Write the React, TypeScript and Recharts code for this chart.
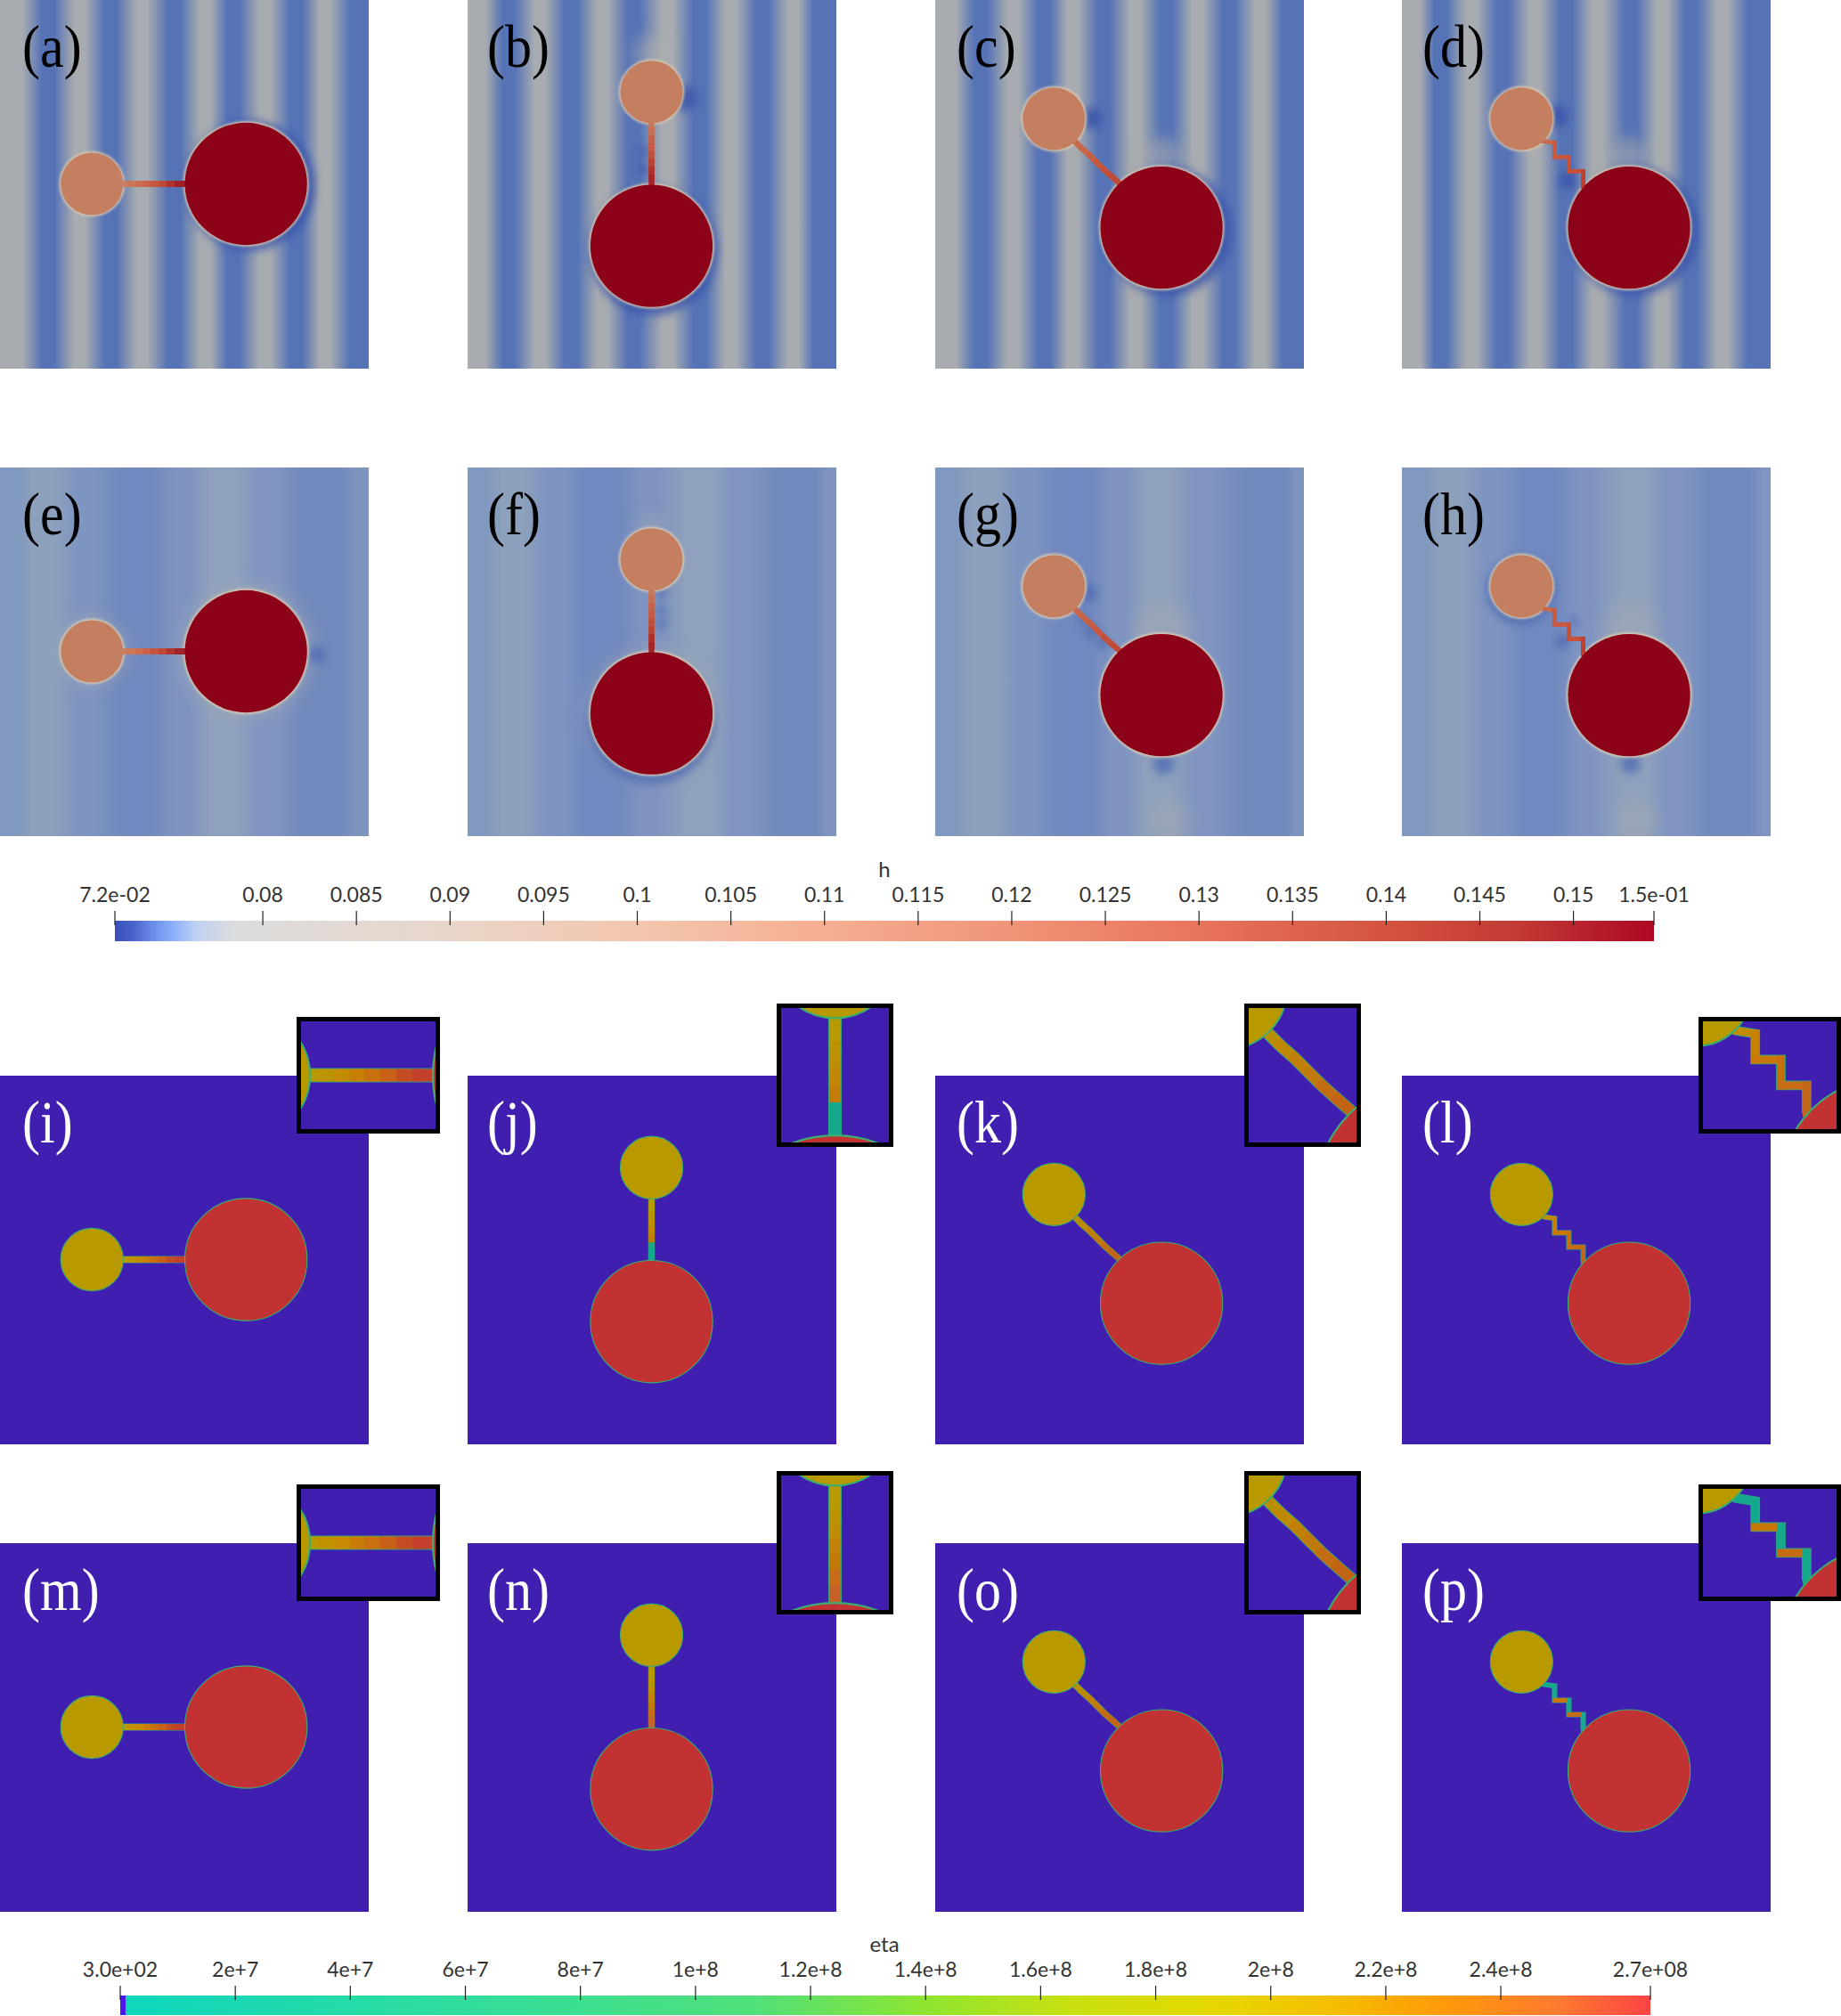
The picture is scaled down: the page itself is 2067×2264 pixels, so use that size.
import { Area, ComposedChart, Line, Scatter, XAxis, YAxis, ZAxis } from 'recharts'

// all field coordinates are in mesh units, one panel is 413 x 413
const MESH = 413
const PANEL_SIZE = 414
const AREA_MAX = 40000

const disc = (x: number, y: number, r: number) => ({ x, y, z: Math.PI * r * r })

const smallCenters = [{ x: 103, y: 206 }, { x: 206, y: 103 }, { x: 133, y: 133 }, { x: 134, y: 133 }]
const bigCenters = [{ x: 275.5, y: 206 }, { x: 206, y: 275.5 }, { x: 253.5, y: 255 }, { x: 254.5, y: 255 }]
const SMALL_R = 35
const BIG_R = 68.5

const rodA = [
  { x: 136, y: 206 }, { x: 146, y: 206 }, { x: 155, y: 206 }, { x: 164, y: 206 }, { x: 172, y: 206 },
  { x: 181, y: 206 }, { x: 190, y: 206 }, { x: 199, y: 206 }, { x: 208, y: 206 }
]
const rodB = [
  { x: 206, y: 136 }, { x: 206, y: 146 }, { x: 206, y: 155 }, { x: 206, y: 164 }, { x: 206, y: 172 },
  { x: 206, y: 181 }, { x: 206, y: 190 }, { x: 206, y: 199 }, { x: 206, y: 208 }
]
const rodC = [
  { x: 156, y: 158 }, { x: 164, y: 166 }, { x: 173, y: 174 }, { x: 181, y: 182 },
  { x: 189, y: 190 }, { x: 198, y: 198 }, { x: 206, y: 205 }
]
const rodD = [
  { x: 158, y: 158 }, { x: 171, y: 160 }, { x: 171, y: 176 }, { x: 187, y: 176 },
  { x: 187, y: 192 }, { x: 203, y: 192 }, { x: 203, y: 209 }
]
const rods = [rodA, rodB, rodC, rodD]
const rodWidths = [7, 6.5, 6.5, 5]

const hRodColors = [
  ['#c87e62', '#ca7858', '#cc6e50', '#ca6248', '#c65640', '#be4836', '#b0342e', '#a02228'],
  ['#c9785a', '#c86e52', '#c6624a', '#c65a42', '#c0503a', '#bc4232', '#b03028', '#a82428'],
  ['#c8684c', '#c8664a', '#c65e44', '#c65840', '#c2503a', '#c04c38'],
  ['#c8684c', '#c85a42', '#c85a42', '#c65038', '#c65038', '#c04030']
]
const etaRodColorsTop = [
  ['#b89a00', '#bc9400', '#c48a00', '#c87e04', '#c8700e', '#c86018', '#c44c24', '#c2402c'],
  ['#b89a00', '#b89a00', '#bc9200', '#c08c04', '#c48404', '#c47c08', '#14a88c', '#14a88c'],
  ['#b88e04', '#bc8806', '#c08008', '#c07a0c', '#c26c14', '#c26414'],
  ['#c08c04', '#c88000', '#c87808', '#c87008', '#c66c14', '#c4661a']
]
const etaRodColorsBottom = [
  ['#b89a00', '#c09200', '#c88a00', '#c87c08', '#c87010', '#c86018', '#c44c24', '#c2402c'],
  ['#b89a00', '#b89a00', '#bc9200', '#c08c04', '#c48008', '#c47808', '#c86c1c', '#c8602a'],
  ['#b88e04', '#bc8806', '#c08008', '#c07a0c', '#c26c14', '#c26414'],
  ['#14a88c', '#14a88c', '#c87808', '#14a88c', '#c86c14', '#14a88c']
]

// stripe centres, alternating grey and blue, per column
const stripeColors = ['#a8acb0', '#5673b6']
const stripePlateaus = [6, 7]
const stripeStops = [
  [19, 54, 89, 124, 159, 195, 230, 261, 297, 332, 364, 399],
  [14, 46, 81, 116, 151, 186, 224, 260, 295, 330, 365, 394],
  [17, 51, 87, 122, 154, 189, 224, 259, 294, 329, 364, 396],
  [15, 43, 78, 113, 149, 184, 219, 257, 291, 324, 359, 394]
]

// the paler second row
const bandColors = ['#8198bf', '#8da0bc', '#7f95c1', '#7289bf', '#7f94c1', '#8fa1bc', '#8095c1', '#7289bd', '#8094c0']
const bandPlateaus = [12, 12, 8, 18, 8, 14, 10, 22, 6]
const bandStops = [
  [10, 48, 95, 150, 205, 250, 300, 360, 405],
  [8, 50, 95, 150, 205, 260, 305, 370, 408],
  [10, 55, 100, 155, 205, 250, 300, 370, 410],
  [15, 55, 100, 155, 205, 260, 305, 368, 410]
]

const topDarkGlows = [
  [disc(280, 208, 73)],
  [disc(243, 110, 14), disc(197, 170, 5), disc(197, 190, 6), disc(208, 281, 72)],
  [disc(175, 133, 12), disc(260, 259, 72)],
  [disc(186, 202, 10), disc(174, 130, 12), disc(260, 259, 72)]
]
const topLightGlows = [
  [],
  [disc(206, 60, 20)],
  [disc(254, 176, 22)],
  [disc(254, 176, 22)]
]
const lowDarkGlows = [
  [disc(355, 210, 10)],
  [disc(217, 140, 6), disc(217, 160, 6), disc(217, 176, 6), disc(206, 284, 71)],
  [disc(170, 140, 11), disc(165, 170, 6), disc(175, 183, 8), disc(187, 197, 7), disc(256, 332, 12)],
  [disc(180, 195, 8), disc(193, 173, 5), disc(133, 137, 39), disc(256, 332, 11)]
]
const lowLightGlows = [
  [disc(276, 206, 76), disc(103, 206, 40)],
  [disc(206, 68, 16), disc(206, 276, 74)],
  [disc(256, 182, 32), disc(262, 395, 24)],
  [disc(256, 182, 32), disc(262, 395, 24)]
]

const columnLefts = [0, 525, 1050, 1574]
const rowTops = [0, 525, 1208, 1733]
const panelLetters = ['a', 'b', 'c', 'd', 'e', 'f', 'g', 'h', 'i', 'j', 'k', 'l', 'm', 'n', 'o', 'p']
const labelOffsets = [25, 22, 24, 23]

const insetBoxes = [
  { left: 333, top: 1142, width: 161, height: 131 },
  { left: 872, top: 1127, width: 131, height: 161 },
  { left: 1397, top: 1127, width: 131, height: 161 },
  { left: 1907, top: 1142, width: 160, height: 131 }
]
const insetViews = [
  { x: [133, 208.5], y: [176, 236] },
  { x: [176, 236], y: [133, 209.5] },
  { x: [145.5, 209.2], y: [144, 223.5] },
  { x: [138.4, 221.7], y: [152.4, 219] }
]
const ROW_GAP = 525

const hTicks = [0.0721, 0.08, 0.085, 0.09, 0.095, 0.1, 0.105, 0.11, 0.115, 0.12, 0.125, 0.13, 0.135, 0.14, 0.145, 0.15, 0.1543]
const hTickLabels = ['7.2e-02', '0.08', '0.085', '0.09', '0.095', '0.1', '0.105', '0.11', '0.115', '0.12', '0.125', '0.13', '0.135', '0.14', '0.145', '0.15', '1.5e-01']
const hStops = [
  [0.0721, '#3a4fb8'], [0.0731, '#4a63cc'], [0.0741, '#6b8ce8'], [0.0752, '#8cb0fa'], [0.0765, '#c0d2f2'], [0.0785, '#dcdcdc'],
  [0.09, '#e9d6ca'], [0.1, '#f3c6ae'], [0.11, '#f6ae92'], [0.12, '#f09478'], [0.13, '#e8745c'], [0.14, '#d4533f'], [0.147, '#c23a35'], [0.1543, '#ad0824']
] as [number, string][]

const etaTicks = [300, 2e7, 4e7, 6e7, 8e7, 1e8, 1.2e8, 1.4e8, 1.6e8, 1.8e8, 2e8, 2.2e8, 2.4e8, 2.66e8]
const etaTickLabels = ['3.0e+02', '2e+7', '4e+7', '6e+7', '8e+7', '1e+8', '1.2e+8', '1.4e+8', '1.6e+8', '1.8e+8', '2e+8', '2.2e+8', '2.4e+8', '2.7e+08']
const etaStops = [
  [300, '#4b18ee'], [9e5, '#4b18ee'], [1.0e6, '#0fd6bd'], [4e7, '#25dba8'], [8e7, '#3ddf90'], [1.1e8, '#50e07a'], [1.4e8, '#8fe530'],
  [1.65e8, '#c8e010'], [1.9e8, '#e5d800'], [2.1e8, '#f4c000'], [2.3e8, '#ff9a08'], [2.5e8, '#ff7a30'], [2.66e8, '#ff4444']
] as [number, string][]

const SERIF = '"Liberation Serif", serif'
const TICK_FONT = 'Lato, sans-serif'

const glowShape = (color: string, blur: number, opacity: number) => (p: any) => (
  <circle cx={p.cx} cy={p.cy} r={p.width / 2} fill={color} fillOpacity={opacity} style={{ filter: `blur(${blur}px)` }} />
)

type FieldProps = {
  id: string
  left: number
  top: number
  width: number
  height: number
  view?: { x: number[]; y: number[] }
  column: number
  stops?: number[]
  stopColors?: string[]
  plateaus?: number[]
  background?: string
  small: string
  big: string
  rim?: string
  ring?: string
  rodEdge?: string
  rodColors: string[]
  darkGlows?: any[]
  lightGlows?: any[]
  darkColor?: string
  lightColor?: string
}

const FieldChart = (f: FieldProps) => {
  const view = f.view ?? { x: [0, MESH], y: [0, MESH] }
  const mag = f.width / (view.x[1] - view.x[0])
  const rod = rods[f.column]
  const rodWidth = rodWidths[f.column] * mag
  const backdrop = [{ x: 0, y: MESH }, { x: MESH, y: MESH }]
  const smallDisc = [disc(smallCenters[f.column].x, smallCenters[f.column].y, SMALL_R)]
  const bigDisc = [disc(bigCenters[f.column].x, bigCenters[f.column].y, BIG_R)]
  const ringDiscs = [
    disc(smallCenters[f.column].x, smallCenters[f.column].y, SMALL_R + 1.5),
    disc(bigCenters[f.column].x, bigCenters[f.column].y, BIG_R + 1.5)
  ]

  return (
    <ComposedChart
      width={f.width}
      height={f.height}
      margin={{ top: 0, right: 0, bottom: 0, left: 0 }}
      style={{ position: 'absolute', left: f.left, top: f.top }}
    >
      <defs>
        <linearGradient id={f.id} x1='0' y1='0' x2='1' y2='0'>
          {(f.stops ?? []).flatMap((s, i) => {
            const colors = f.stopColors!
            const color = colors[i % colors.length]
            const half = f.plateaus![i % f.plateaus!.length]
            return [
              <stop key={`${i}a`} offset={Math.max(s - half, 0) / MESH} stopColor={color} />,
              <stop key={`${i}b`} offset={Math.min(s + half, MESH) / MESH} stopColor={color} />
            ]
          })}
        </linearGradient>
      </defs>
      <XAxis dataKey='x' type='number' domain={view.x} allowDataOverflow hide />
      <YAxis dataKey='y' type='number' domain={view.y} allowDataOverflow reversed hide />
      <ZAxis dataKey='z' type='number' domain={[0, AREA_MAX]} range={[0, AREA_MAX * mag * mag]} />
      <Area
        data={backdrop}
        dataKey='y'
        type='linear'
        stroke='none'
        fill={f.background ?? `url(#${f.id})`}
        fillOpacity={1}
        dot={false}
        activeDot={false}
        isAnimationActive={false}
      />
      {f.lightGlows && f.lightGlows.length > 0 && (
        <Scatter data={f.lightGlows} shape={glowShape(f.lightColor!, 9, 0.55)} isAnimationActive={false} zIndex={150} />
      )}
      {f.darkGlows && f.darkGlows.length > 0 && (
        <Scatter data={f.darkGlows} shape={glowShape(f.darkColor!, 5, 0.75)} isAnimationActive={false} zIndex={160} />
      )}
      {f.ring && (
        <Scatter data={ringDiscs} shape={glowShape(f.ring, 1.6, 1)} isAnimationActive={false} zIndex={170} />
      )}
      {f.rodEdge && (
        <Line
          data={rod}
          dataKey='y'
          type='linear'
          stroke={f.rodEdge}
          strokeWidth={rodWidth + 1 * mag}
          strokeLinejoin='miter'
          dot={false}
          activeDot={false}
          isAnimationActive={false}
        />
      )}
      {f.rodColors.map((color, i) => (
        <Line
          key={i}
          data={rod.slice(i, i + 2)}
          dataKey='y'
          type='linear'
          stroke={color}
          strokeWidth={rodWidth}
          strokeLinecap='square'
          dot={false}
          activeDot={false}
          isAnimationActive={false}
        />
      ))}
      <Scatter
        data={smallDisc}
        shape='circle'
        fill={f.small}
        stroke={f.rim ?? 'none'}
        strokeWidth={1.1 * mag}
        isAnimationActive={false}
      />
      <Scatter
        data={bigDisc}
        shape='circle'
        fill={f.big}
        stroke={f.rim ?? 'none'}
        strokeWidth={1.1 * mag}
        isAnimationActive={false}
      />
    </ComposedChart>
  )
}

const ColorbarTick = ({ x, y, payload, values, labels }: any) => (
  <g>
    <line x1={x} x2={x} y1={y - 11} y2={y + 5} stroke='#222' strokeWidth={1.2} />
    <text x={x} y={y - 21} textAnchor='middle' fontFamily={TICK_FONT} fontSize={23} fill='#333'>
      {labels[values.indexOf(payload.value)]}
    </text>
  </g>
)

type ColorbarProps = {
  id: string
  top: number
  barLeft: number
  barRight: number
  barTop: number
  barBottom: number
  ticks: number[]
  labels: string[]
  stops: [number, string][]
}

const Colorbar = ({ id, top, barLeft, barRight, barTop, barBottom, ticks, labels, stops }: ColorbarProps) => {
  const min = ticks[0]
  const max = ticks[ticks.length - 1]
  return (
    <ComposedChart
      width={2067}
      height={barBottom - top}
      margin={{ top: barTop - top - 1, right: 2067 - barRight, bottom: 0, left: barLeft }}
      style={{ position: 'absolute', left: 0, top }}
    >
      <defs>
        <linearGradient id={id} x1='0' y1='0' x2='1' y2='0'>
          {stops.map(([v, color], i) => (
            <stop key={i} offset={(v - min) / (max - min)} stopColor={color} />
          ))}
        </linearGradient>
      </defs>
      <YAxis type='number' domain={[0, 1]} hide />
      <Area
        data={[{ v: min, b: 1 }, { v: max, b: 1 }]}
        dataKey='b'
        type='linear'
        stroke='none'
        fill={`url(#${id})`}
        fillOpacity={1}
        dot={false}
        activeDot={false}
        isAnimationActive={false}
      />
      <XAxis
        dataKey='v'
        type='number'
        orientation='top'
        height={1}
        domain={[min, max]}
        ticks={ticks}
        interval={0}
        axisLine={false}
        tickLine={false}
        tickSize={0}
        tickMargin={0}
        tick={<ColorbarTick values={ticks} labels={labels} />}
      />
    </ComposedChart>
  )
}

const PanelLabel = ({ letter, left, top, color }: { letter: string; left: number; top: number; color: string }) => (
  <div
    style={{
      position: 'absolute',
      left,
      top,
      fontFamily: SERIF,
      fontSize: 60,
      lineHeight: '62px',
      color,
      transform: 'scaleY(1.12)',
      transformOrigin: 'left center'
    }}
  >
    ({letter})
  </div>
)

const BarTitle = ({ text, top }: { text: string; top: number }) => (
  <div
    style={{
      position: 'absolute',
      left: 893,
      width: 200,
      top,
      textAlign: 'center',
      fontFamily: TICK_FONT,
      fontSize: 24,
      lineHeight: '24px',
      color: '#333'
    }}
  >
    {text}
  </div>
)

const etaColors = {
  background: '#3f1eb0',
  small: '#b89a00',
  big: '#c23232',
  rim: '#3cae70',
  rodEdge: '#2aa882'
}

const App = () => {
  return (
    <div style={{ position: 'absolute', left: 0, top: 0, width: 2067, height: 2264, overflow: 'hidden', background: '#fff' }}>
      {columnLefts.map((left, c) => (
        <div key={c}>
          <FieldChart
            id={`stripe${c}`}
            left={left}
            top={rowTops[0]}
            width={PANEL_SIZE}
            height={PANEL_SIZE}
            column={c}
            stops={stripeStops[c]}
            stopColors={stripeColors}
            plateaus={stripePlateaus}
            small='#c47f60'
            big='#8c0319'
            ring='#dccbb2'
            rodColors={hRodColors[c]}
            darkGlows={topDarkGlows[c]}
            lightGlows={topLightGlows[c]}
            darkColor='#3650a8'
            lightColor='#b0b0ac'
          />
          <FieldChart
            id={`band${c}`}
            left={left}
            top={rowTops[1]}
            width={PANEL_SIZE}
            height={PANEL_SIZE}
            column={c}
            stops={bandStops[c]}
            stopColors={bandColors}
            plateaus={bandPlateaus}
            small='#c47f60'
            big='#8c0319'
            ring='#e0d0b4'
            rodColors={hRodColors[c]}
            darkGlows={lowDarkGlows[c]}
            lightGlows={lowLightGlows[c]}
            darkColor='#4c68b2'
            lightColor='#a0a8b4'
          />
          <FieldChart id={`etaTop${c}`} left={left} top={rowTops[2]} width={PANEL_SIZE} height={PANEL_SIZE} column={c} rodColors={etaRodColorsTop[c]} {...etaColors} />
          <FieldChart id={`etaLow${c}`} left={left} top={rowTops[3]} width={PANEL_SIZE} height={PANEL_SIZE} column={c} rodColors={etaRodColorsBottom[c]} {...etaColors} />
        </div>
      ))}
      {panelLetters.map((letter, i) => (
        <PanelLabel
          key={letter}
          letter={letter}
          left={columnLefts[i % 4] + labelOffsets[i % 4]}
          top={rowTops[Math.floor(i / 4)] + 22}
          color={i < 8 ? '#000' : '#fff'}
        />
      ))}
      {[0, 1].map(row =>
        insetBoxes.map((box, c) => (
          <div key={`${row}${c}`}>
            <div
              style={{
                position: 'absolute',
                left: box.left,
                top: box.top + row * ROW_GAP,
                width: box.width,
                height: box.height,
                background: '#000'
              }}
            />
            <FieldChart
              id={`inset${row}${c}`}
              left={box.left + 5}
              top={box.top + row * ROW_GAP + 5}
              width={box.width - 10}
              height={box.height - 10}
              view={insetViews[c]}
              column={c}
              rodColors={row === 0 ? etaRodColorsTop[c] : etaRodColorsBottom[c]}
              {...etaColors}
            />
          </div>
        ))
      )}
      <BarTitle text='h' top={964} />
      <Colorbar id='hBar' top={985} barLeft={129} barRight={1857} barTop={1034} barBottom={1057} ticks={hTicks} labels={hTickLabels} stops={hStops} />
      <BarTitle text='eta' top={2171} />
      <Colorbar id='etaBar' top={2195} barLeft={135} barRight={1853} barTop={2241} barBottom={2263} ticks={etaTicks} labels={etaTickLabels} stops={etaStops} />
    </div>
  )
}

export default App
